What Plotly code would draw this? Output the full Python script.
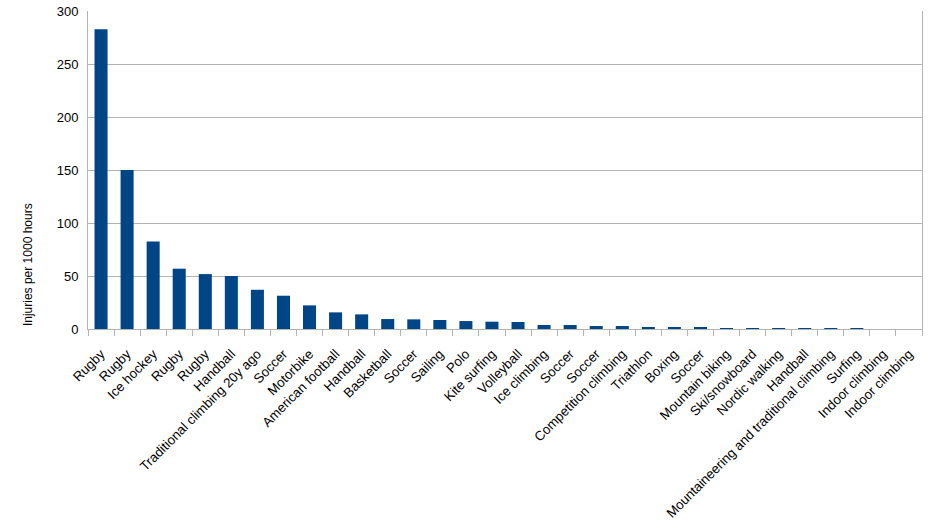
import plotly.graph_objects as go

categories = ["Rugby", "Rugby", "Ice hockey", "Rugby", "Rugby", "Handball",
              "Traditional climbing 20y ago", "Soccer", "Motorbike", "American football",
              "Handball", "Basketball", "Soccer", "Sailing", "Polo", "Kite surfing",
              "Volleyball", "Ice climbing", "Soccer", "Soccer", "Competition climbing",
              "Triathlon", "Boxing", "Soccer", "Mountain biking", "Ski/snowboard",
              "Nordic walking", "Handball", "Mountaineering and traditional climbing",
              "Surfing", "Indoor climbing", "Indoor climbing"]
values = [282.7, 149.9, 82.6, 56.9, 51.8, 50.0, 37.0, 31.4, 22.3, 15.7,
          13.8, 9.4, 9.1, 8.5, 7.5, 6.9, 6.6, 3.8, 3.8, 2.8, 2.8,
          1.9, 1.6, 1.0, 0.8, 0.8, 0.7, 0.3, 0.3, 0.3, 0.0, 0.0]
y_ticks = [0, 50, 100, 150, 200, 250, 300]
y_title = "Injuries per 1000 hours"

x_idx = list(range(len(categories)))

fig = go.Figure(go.Bar(x=x_idx, y=values, marker=dict(color="#004586", line=dict(width=0)),
                       width=0.5, hoverinfo="skip"))

fig.update_layout(
    width=941, height=529,
    margin=dict(l=88, r=19, t=11, b=200),
    plot_bgcolor="white", paper_bgcolor="white",
    font=dict(family="Liberation Sans, Arial, sans-serif", size=13, color="#000000"),
    showlegend=False,
)
fig.update_xaxes(
    automargin=False,
    tickmode="array", tickvals=x_idx, ticktext=categories,
    range=[-0.5, len(categories) - 0.5],
    tickangle=-45, showgrid=False,
    showline=True, linecolor="#b3b3b3", linewidth=1,
    ticks="", ticklabelstandoff=11, ticklabelshift=0,
    tickfont=dict(size=13.3, color="#000000"),
)
fig.update_yaxes(
    automargin=False,
    range=[0, 300], tickvals=y_ticks,
    showgrid=True, gridcolor="#b3b3b3", gridwidth=1,
    showline=True, linecolor="#b3b3b3", linewidth=1, mirror=True,
    zeroline=False, ticks="", ticklabelstandoff=6,
    tickfont=dict(size=13, color="#000000"),
)
fig.add_annotation(text=y_title, textangle=-90, xref="paper", yref="paper",
                   x=-0.072, y=0.204, xanchor="center", yanchor="middle",
                   showarrow=False, font=dict(size=12, color="#000000"))
fig.update_xaxes(minor=dict(tickmode="array", tickvals=[i - 0.5 for i in range(len(categories) + 1)],
                            ticks="outside", ticklen=6, tickcolor="#b3b3b3", showgrid=False))

fig.write_html("out.html", config={"displayModeBar": False},
               post_script="document.body.style.margin='0px';")
